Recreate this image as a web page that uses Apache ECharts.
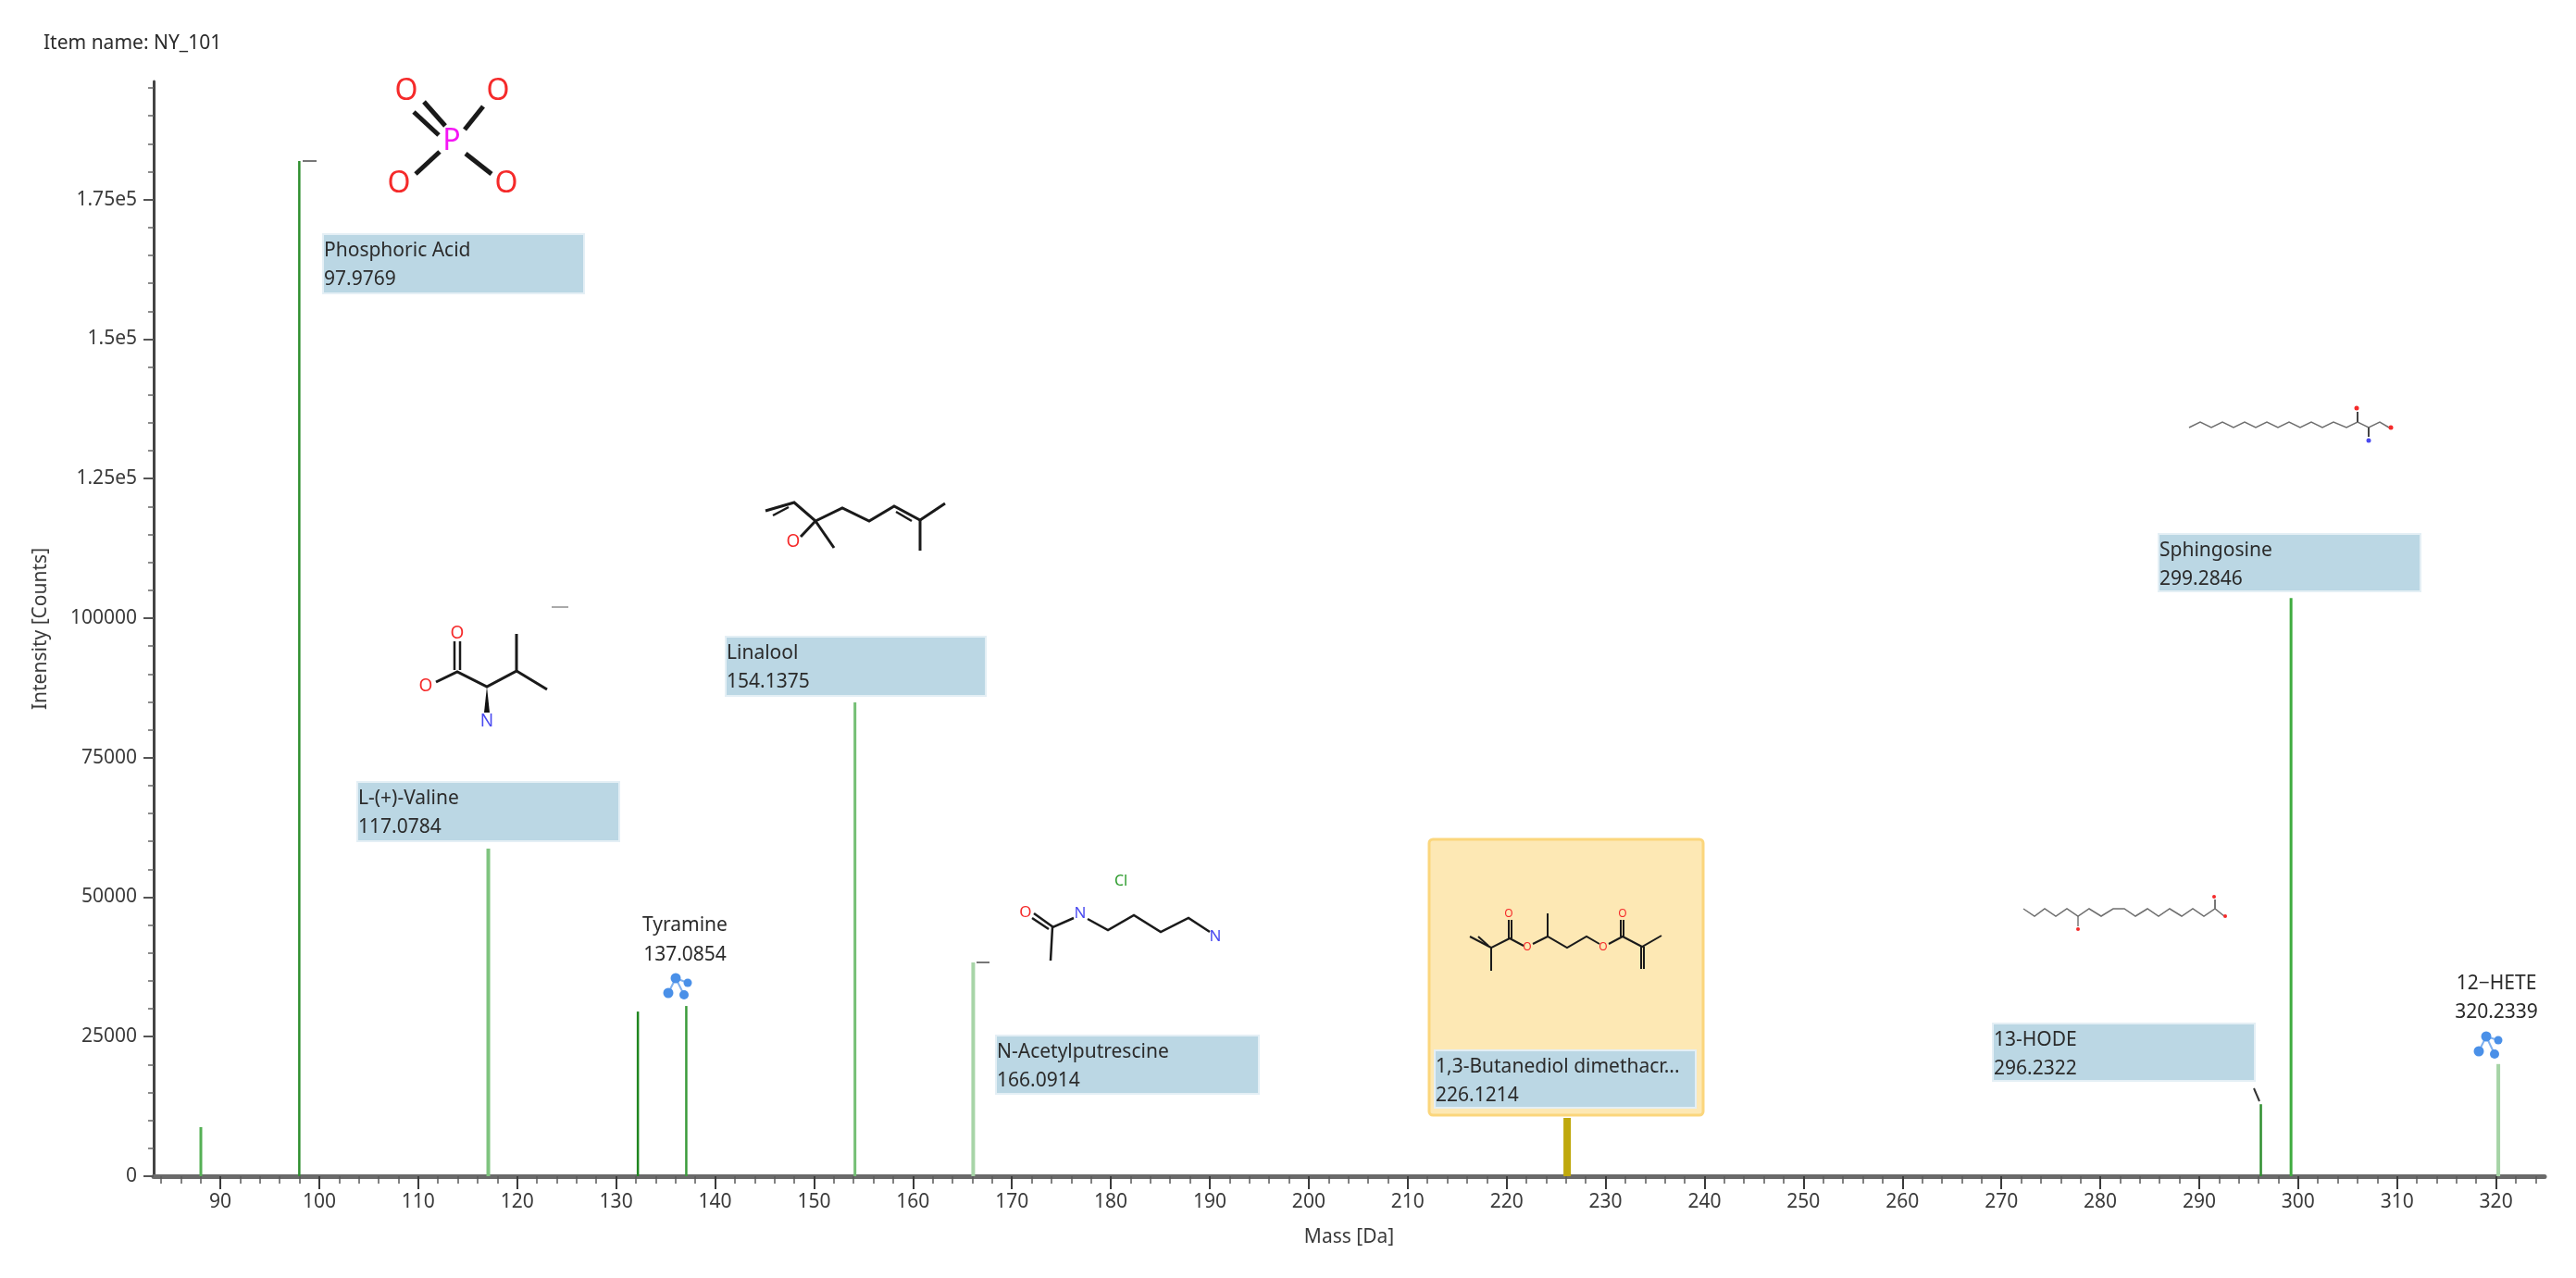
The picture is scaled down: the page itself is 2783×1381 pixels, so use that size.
<!DOCTYPE html>
<html lang="en">
  <head>
    <meta charset="UTF-8" />
    <title>Item name: NY_101</title>
    <style>
      html, body { margin: 0; padding: 0; background: #fff; }
      #main { width: 2783px; height: 1381px; }
    </style>
    <script src="https://cdn.jsdelivr.net/npm/echarts@6/dist/echarts.min.js"></script>
  </head>
  <body>
    <div id="main"></div>
    <script>
      const FONT = '"Noto Sans", sans-serif';
      const TEXT_COLOR = '#2b2b2b';

      // values
      const peakMass = [88.03, 97.98, 117.08, 132.2, 137.09, 154.14, 166.09, 226.12, 296.23, 299.28, 320.23];
      const peakIntensity = [8800, 181900, 58700, 29500, 30500, 84900, 38300, 10450, 12900, 103600, 20100];

      const xMajorTicks = [90, 100, 110, 120, 130, 140, 150, 160, 170, 180, 190, 200, 210, 220, 230, 240, 250, 260, 270, 280, 290, 300, 310, 320];
      const xMinorTicks = [84, 86, 88, 92, 94, 96, 98, 102, 104, 106, 108, 112, 114, 116, 118, 122, 124, 126, 128, 132, 134, 136, 138, 142, 144, 146, 148, 152, 154, 156, 158, 162, 164, 166, 168, 172, 174, 176, 178, 182, 184, 186, 188, 192, 194, 196, 198, 202, 204, 206, 208, 212, 214, 216, 218, 222, 224, 226, 228, 232, 234, 236, 238, 242, 244, 246, 248, 252, 254, 256, 258, 262, 264, 266, 268, 272, 274, 276, 278, 282, 284, 286, 288, 292, 294, 296, 298, 302, 304, 306, 308, 312, 314, 316, 318, 322, 324];
      const yMajorTicks = [0, 25000, 50000, 75000, 100000, 125000, 150000, 175000];
      const yMajorLabels = ['0', '25000', '50000', '75000', '100000', '1.25e5', '1.5e5', '1.75e5'];
      const yMinorTicks = [5000, 10000, 15000, 20000, 30000, 35000, 40000, 45000, 55000, 60000, 65000, 70000, 80000, 85000, 90000, 95000, 105000, 110000, 115000, 120000, 130000, 135000, 140000, 145000, 155000, 160000, 165000, 170000, 180000, 185000, 190000, 195000];

      const boxNames = ['Phosphoric Acid', 'L-(+)-Valine', 'Linalool', 'N-Acetylputrescine', '1,3-Butanediol dimethacr...', 'Sphingosine', '13-HODE'];
      const boxMasses = ['97.9769', '117.0784', '154.1375', '166.0914', '226.1214', '299.2846', '296.2322'];
      const plainNames = ['Tyramine', '12\u2212HETE'];
      const plainMasses = ['137.0854', '320.2339'];

      // styles and pixel layout
      const stemStyles = [
        { color: '#55b055', width: 3 }, { color: '#2f8f2f', width: 2.5 }, { color: '#7fc47f', width: 4 },
        { color: '#1f861f', width: 2.5 }, { color: '#3c9c3c', width: 2.5 }, { color: '#74bf74', width: 3 },
        { color: '#a8d5a8', width: 4 }, { color: '#bfa80c', width: 8 }, { color: '#2f8f2f', width: 2.5 },
        { color: '#3fab3f', width: 3 }, { color: '#a6d4a6', width: 4 },
      ];
      const boxRects = [
        [349, 253, 282, 64], [386, 845, 283, 64], [784, 688, 281, 64], [1076, 1119, 284, 63],
        [1550, 1135, 282, 62], [2332, 577, 283, 62], [2153, 1106, 283, 62],
      ];
      const plainCenters = [[740, 1000, 1032], [2697, 1063, 1094]];
      const iconDots = [
        [[730, 1057], [743, 1062], [722, 1073], [739, 1075]],
        [[2686, 1120], [2699, 1124], [2678, 1136], [2695, 1139]],
      ];

      function seg(points, width, color) {
        return {
          type: 'polyline',
          z: 20,
          shape: { points: points },
          style: { stroke: color || '#1a1a1a', lineWidth: width, fill: null },
        };
      }

      function atom(label, x, y, color, size) {
        return {
          type: 'text',
          z: 21,
          x: x,
          y: y,
          style: {
            text: label,
            fill: color,
            font: size + 'px ' + FONT,
            align: 'center',
            verticalAlign: 'middle',
          },
        };
      }

      function dot(x, y, r, color) {
        return { type: 'circle', z: 21, shape: { cx: x, cy: y, r: r }, style: { fill: color } };
      }

      function textAt(label, x, y, align) {
        return {
          type: 'text',
          z: 22,
          x: x,
          y: y,
          style: {
            text: label,
            fill: TEXT_COLOR,
            font: '21px ' + FONT,
            align: align,
            verticalAlign: 'middle',
          },
        };
      }

      function moleculeParts() {
        const RED = '#f52a2a';
        const BLUE = '#4a4af0';
        return [
          // phosphoric acid
          seg([[458, 110], [481, 136]], 5), seg([[447, 121], [474, 146]], 5),
          seg([[522, 115], [502, 140]], 5), seg([[475, 164], [449, 188]], 5), seg([[503, 166], [531, 188]], 5),
          atom('O', 439, 99, RED, 32), atom('O', 538, 99, RED, 32), atom('O', 431, 199, RED, 32), atom('O', 547, 199, RED, 32),
          atom('P', 488, 153, '#f516f5', 32),

          // valine
          seg([[491, 693], [491, 724]], 2.5), seg([[497, 693], [497, 724]], 2.5),
          seg([[471, 737], [494, 726], [526, 742], [558, 725], [558, 685]], 3), seg([[558, 725], [591, 745]], 3),
          { type: 'polygon', z: 20, shape: { points: [[526, 742], [523, 770], [529, 770]] }, style: { fill: '#111' } },
          atom('O', 494, 685, RED, 19), atom('O', 460, 742, RED, 19), atom('N', 526, 780, BLUE, 19),

          // linalool
          seg([[827, 552], [858, 543], [881, 563], [910, 549], [939, 563], [966, 547], [994, 562], [1021, 544]], 3),
          seg([[835, 557], [852, 548]], 2.5), seg([[968, 553], [985, 563]], 2.5),
          seg([[994, 562], [994, 595]], 3), seg([[881, 563], [901, 592]], 3), seg([[881, 563], [865, 580]], 3),
          atom('O', 857, 586, RED, 19),

          // N-acetylputrescine
          seg([[1117, 987], [1138, 1002]], 2.5), seg([[1115, 992], [1133, 1004]], 2.5),
          seg([[1135, 1038], [1137, 1002], [1160, 992]], 2.5),
          seg([[1175, 993], [1197, 1005], [1225, 989], [1254, 1007], [1284, 992], [1307, 1007]], 2.5),
          atom('Cl', 1211, 952, '#2a9a2a', 16), atom('O', 1108, 986, RED, 17), atom('N', 1167, 987, BLUE, 17), atom('N', 1313, 1012, BLUE, 17),

          // butanediol dimethacrylate
          seg([[1588, 1012], [1611, 1024]], 2), seg([[1597, 1012], [1608, 1022]], 2),
          seg([[1611, 1049], [1611, 1024], [1631, 1014], [1646, 1022]], 2),
          seg([[1630, 994], [1630, 1014]], 2), seg([[1633, 994], [1633, 1014]], 2),
          seg([[1656, 1020], [1672, 1012], [1693, 1024], [1714, 1012], [1728, 1020]], 2),
          seg([[1672, 1012], [1672, 987]], 2),
          seg([[1738, 1020], [1753, 1012], [1774, 1023], [1795, 1011]], 2),
          seg([[1751, 994], [1751, 1012]], 2), seg([[1754, 994], [1754, 1012]], 2),
          seg([[1773, 1023], [1773, 1047]], 2), seg([[1776, 1023], [1776, 1047]], 2),
          atom('O', 1630, 988, RED, 12), atom('O', 1650, 1024, RED, 12), atom('O', 1732, 1024, RED, 12), atom('O', 1753, 988, RED, 12),

          // sphingosine
          seg([[2365, 462], [2377, 456], [2389, 462], [2401, 456], [2413, 462], [2425, 456], [2437, 462], [2449, 456], [2461, 462], [2473, 456], [2485, 462], [2497, 456], [2509, 462], [2521, 456], [2535, 462], [2547, 456], [2559, 462], [2571, 456], [2581, 462]], 1.5, '#6f6f6f'),
          seg([[2547, 456], [2547, 445]], 2, '#444'), seg([[2559, 462], [2559, 472]], 2, '#444'),
          dot(2546, 441, 2.5, RED), dot(2559, 476, 2.5, BLUE), dot(2583, 462, 2.5, RED),

          // 13-HODE
          seg([[2186, 982], [2198, 990], [2209, 982], [2221, 990], [2233, 982], [2245, 990], [2257, 982], [2270, 990], [2283, 982], [2295, 982], [2307, 990], [2320, 982], [2332, 990], [2344, 982], [2357, 990], [2369, 982], [2381, 990], [2393, 982], [2403, 990]], 1.5, '#6f6f6f'),
          seg([[2245, 990], [2245, 1001]], 1.5, '#777'), seg([[2393, 982], [2393, 972]], 2, '#777'),
          dot(2245, 1004, 2, RED), dot(2392, 969, 2, RED), dot(2404, 990, 2, RED),

          // small fragments beside the peaks
          seg([[327, 174], [342, 174]], 2, '#777'), seg([[596, 656], [614, 656]], 2, '#aaa'),
          seg([[1055, 1040], [1069, 1040]], 2, '#777'), seg([[2435, 1176], [2441, 1190]], 2, '#333'),
        ];
      }

      function labelParts() {
        const parts = [
          {
            type: 'rect',
            z: 10,
            shape: { x: 1544, y: 907, width: 296, height: 298, r: 4 },
            style: { fill: '#fde8b4', stroke: '#fbd67c', lineWidth: 3 },
          },
        ];
        boxNames.forEach((name, i) => {
          const r = boxRects[i];
          parts.push({
            type: 'rect',
            z: 12,
            shape: { x: r[0], y: r[1], width: r[2], height: r[3] },
            style: { fill: '#bbd7e4', stroke: '#e4eff5', lineWidth: 2 },
          });
          parts.push(textAt(name, r[0] + 1, r[1] + 18, 'left'));
          parts.push(textAt(boxMasses[i], r[0] + 1, r[1] + 49, 'left'));
        });
        plainNames.forEach((name, i) => {
          const c = plainCenters[i];
          parts.push(textAt(name, c[0], c[1], 'center'));
          parts.push(textAt(plainMasses[i], c[0], c[2], 'center'));
          const d = iconDots[i];
          parts.push(seg([d[2], d[0], d[1]], 2, '#7fb0ee'));
          parts.push(seg([d[0], d[3]], 2, '#7fb0ee'));
          parts.push(dot(d[0][0], d[0][1], 5.5, '#4a90e8'));
          parts.push(dot(d[1][0], d[1][1], 4.5, '#4a90e8'));
          parts.push(dot(d[2][0], d[2][1], 5.5, '#4a90e8'));
          parts.push(dot(d[3][0], d[3][1], 5, '#4a90e8'));
        });
        return parts;
      }

      function renderStem(params, api) {
        const style = stemStyles[params.dataIndex];
        const top = api.coord([api.value(0), api.value(1)]);
        const bottom = api.coord([api.value(0), 0]);
        return {
          type: 'rect',
          shape: { x: top[0] - style.width / 2, y: top[1], width: style.width, height: bottom[1] - top[1] },
          style: { fill: style.color },
        };
      }

      const X_MIN = 83.26;
      const X_MAX = 324.9;
      const Y_MAX = 196170;

      const options = {
        animation: false,
        backgroundColor: '#ffffff',
        textStyle: { fontFamily: FONT },
        title: {
          text: 'Item name: NY_101',
          left: 42,
          top: 32,
          textStyle: { fontFamily: FONT, fontSize: 21, fontWeight: 'normal', color: TEXT_COLOR },
        },
        grid: { left: 166, right: 34, top: 88, bottom: 110 },
        xAxis: [
          {
            type: 'value',
            min: X_MIN,
            max: X_MAX,
            name: 'Mass [Da]',
            nameLocation: 'middle',
            nameGap: 56,
            nameTextStyle: { fontFamily: FONT, fontSize: 21, color: '#3a3a3a' },
            splitLine: { show: false },
            axisLine: { show: true, onZero: false, lineStyle: { color: '#6a6a6a', width: 5 } },
            axisTick: { show: true, customValues: xMajorTicks, length: 14, lineStyle: { color: '#3a3a3a', width: 2 } },
            axisLabel: { show: true, customValues: xMajorTicks, margin: 18, fontFamily: FONT, fontSize: 21, color: '#3a3a3a' },
          },
          {
            type: 'value',
            min: X_MIN,
            max: X_MAX,
            position: 'bottom',
            splitLine: { show: false },
            axisLine: { show: false },
            axisLabel: { show: false },
            axisTick: { show: true, customValues: xMinorTicks, length: 8, lineStyle: { color: '#5a5a5a', width: 1.5 } },
          },
        ],
        yAxis: [
          {
            type: 'value',
            min: 0,
            max: Y_MAX,
            name: 'Intensity [Counts]',
            nameLocation: 'middle',
            nameGap: 111,
            nameTextStyle: { fontFamily: FONT, fontSize: 21, color: '#3a3a3a' },
            splitLine: { show: false },
            axisLine: { show: true, lineStyle: { color: '#444444', width: 3 } },
            axisTick: { show: true, customValues: yMajorTicks, length: 11, lineStyle: { color: '#555', width: 2 } },
            axisLabel: {
              show: true,
              customValues: yMajorTicks,
              margin: 18,
              fontFamily: FONT,
              fontSize: 21,
              color: '#3a3a3a',
              formatter: (value) => yMajorLabels[yMajorTicks.indexOf(value)],
            },
          },
          {
            type: 'value',
            min: 0,
            max: Y_MAX,
            position: 'left',
            splitLine: { show: false },
            axisLine: { show: false },
            axisLabel: { show: false },
            axisTick: { show: true, customValues: yMinorTicks, length: 6, lineStyle: { color: '#666', width: 1.5 } },
          },
        ],
        series: [
          {
            name: 'Peaks',
            type: 'custom',
            renderItem: renderStem,
            clip: false,
            z: 5,
            data: peakMass.map((mass, i) => [mass, peakIntensity[i]]),
          },
        ],
        graphic: labelParts().concat(moleculeParts()),
      };

      const myChart = echarts.init(document.querySelector('#main'));
      myChart.setOption(options);
    </script>
  </body>
</html>
